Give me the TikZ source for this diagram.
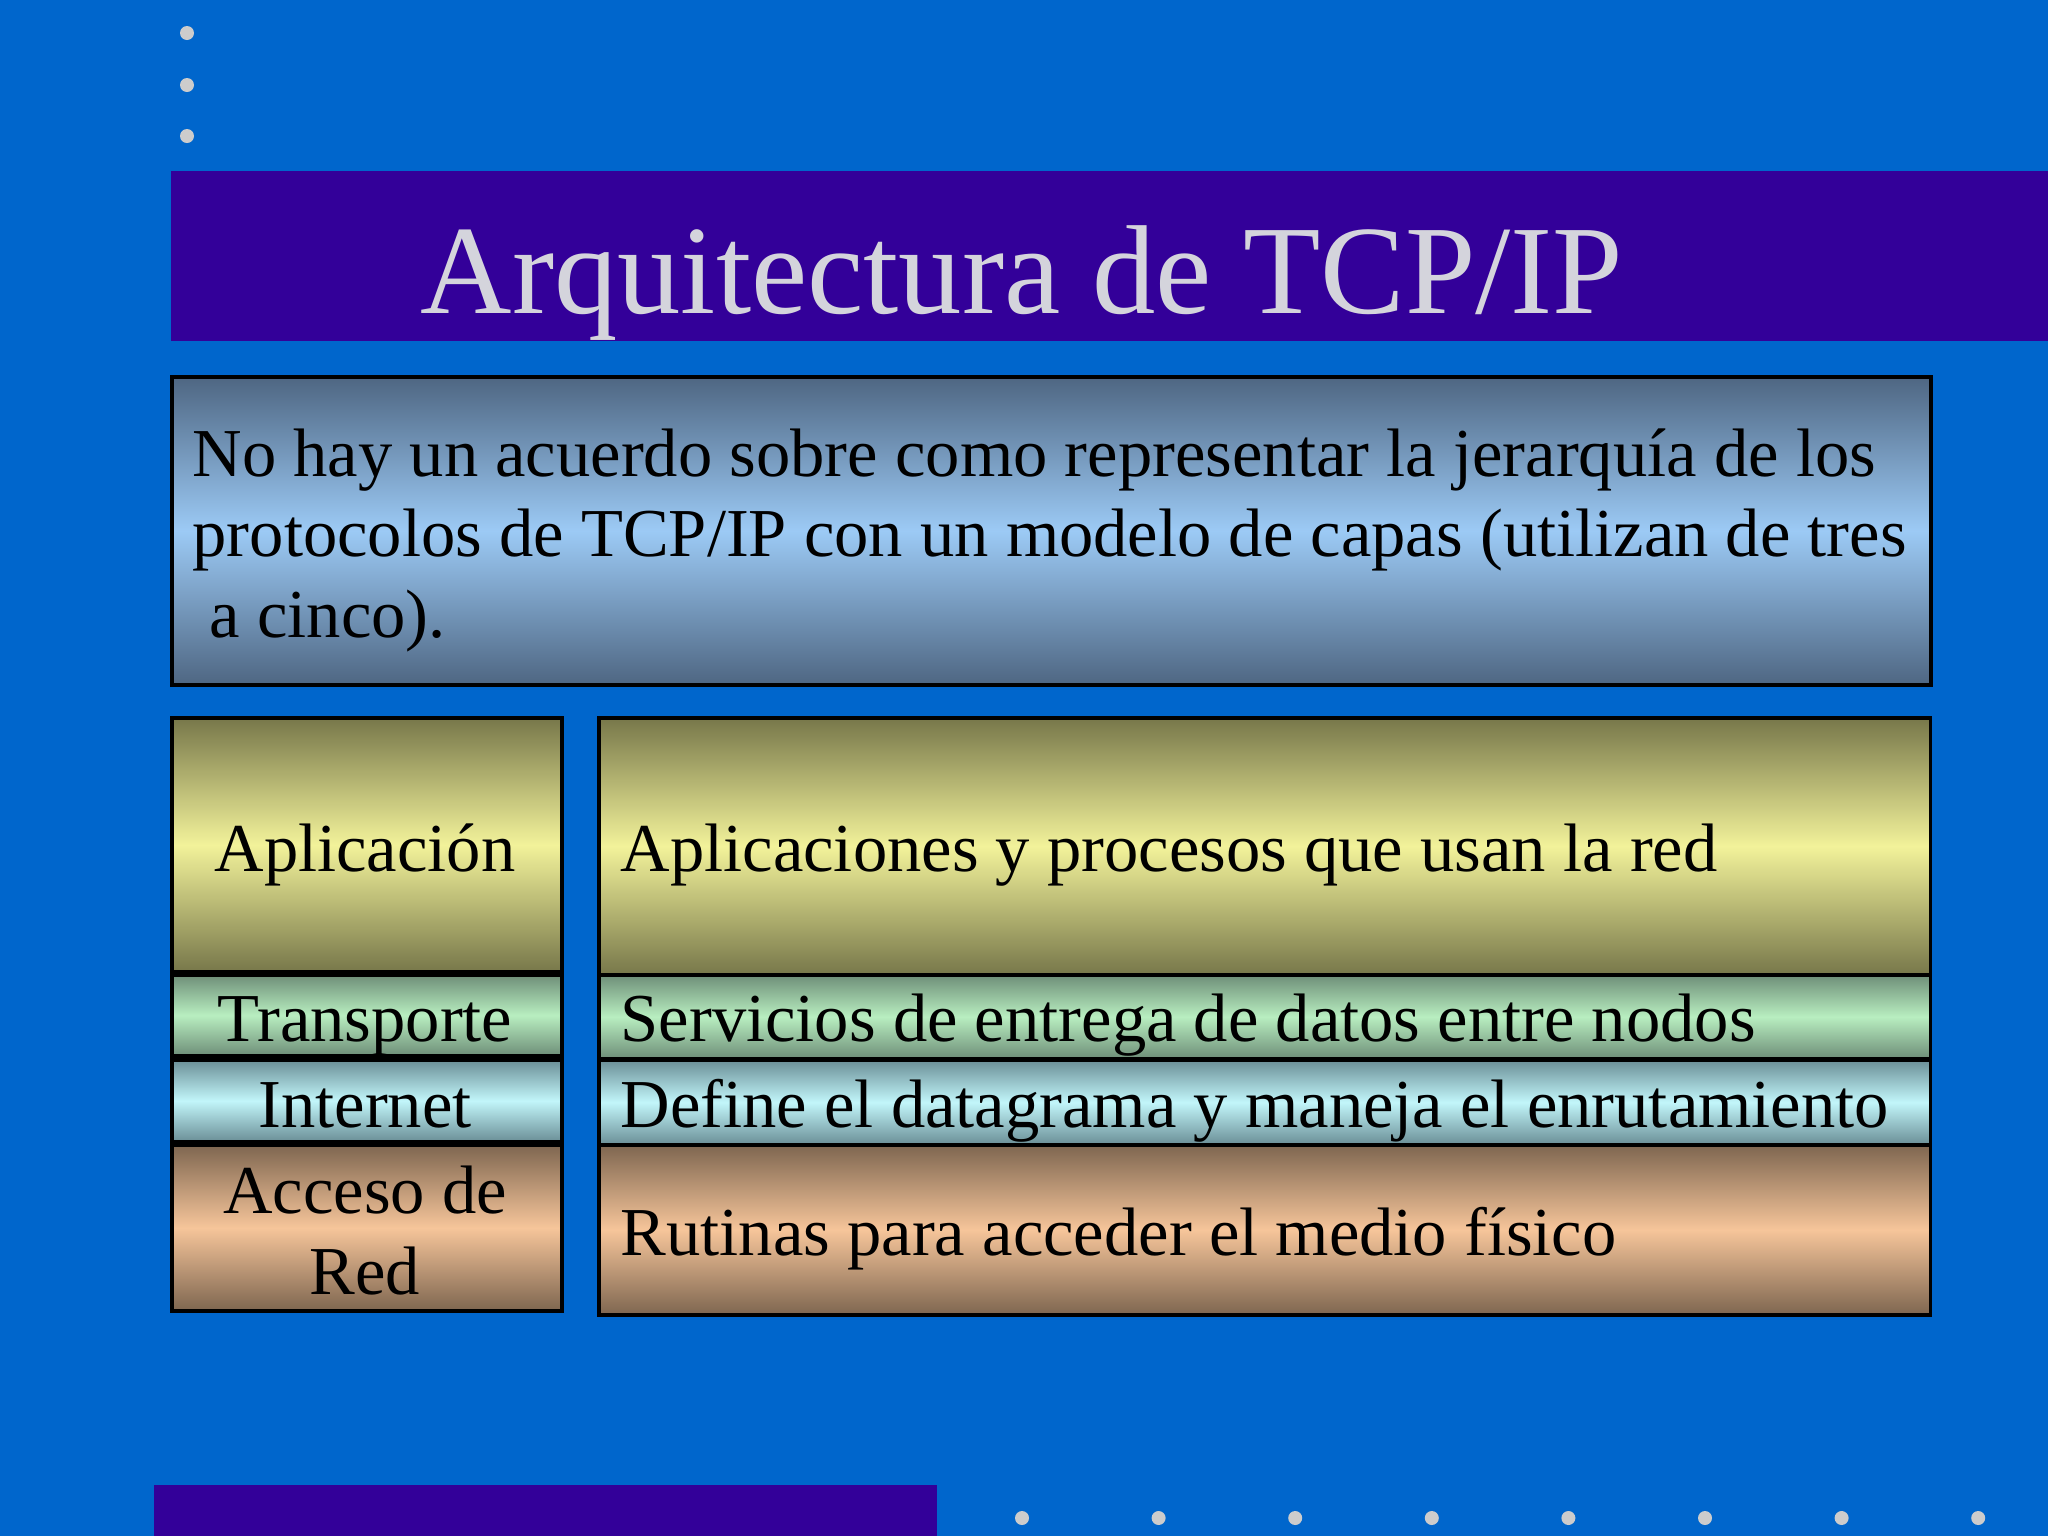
\documentclass[tikz,border=0pt]{standalone}
\usepackage{fontspec}
\setmainfont{Liberation Serif}
\usetikzlibrary{positioning}
\definecolor{slidebg}{HTML}{0066CC}
\definecolor{titlebar}{HTML}{330099}
\definecolor{dotgray}{HTML}{CCCCCC}
\definecolor{titlegray}{HTML}{D4D4DC}
\definecolor{descdark}{HTML}{4E6682}
\definecolor{desclight}{HTML}{9CCAF5}
\definecolor{apldark}{HTML}{77774A}
\definecolor{apllight}{HTML}{F2F29A}
\definecolor{trdark}{HTML}{6E8E78}
\definecolor{trlight}{HTML}{B8EEC0}
\definecolor{indark}{HTML}{6A8E96}
\definecolor{inlight}{HTML}{C2F6FA}
\definecolor{acdark}{HTML}{7E6650}
\definecolor{aclight}{HTML}{F6C59A}
\tikzset{
  layer/.style={draw=black, line width=1pt, rectangle, inner sep=0pt, anchor=north west},
  lbl/.style={inner sep=0pt, text=black, font=\fontsize{19.5}{22.8}\selectfont},
  titletext/.style={inner sep=0pt, text=titlegray, font=\fontsize{36}{40}\selectfont},
  shade3/.style n args={2}{top color=#1, bottom color=#1, middle color=#2},
}
\begin{document}
\begin{tikzpicture}[x=0.01cm,y=-0.01cm]
\useasboundingbox (0,0) rectangle (2048,1536);
\fill[slidebg] (0,0) rectangle (2048,1536);
% bullets and bars
\foreach \y in {33,85,136}
  \fill[dotgray] (187,\y) circle[radius=7];
\foreach \i in {0,...,7}
  \fill[dotgray] (1022+136.6*\i,1518) circle[radius=7];
\fill[titlebar] (171,171) rectangle (2048,341);
\fill[titlebar] (154,1485) rectangle (937,1536);
\node[titletext, anchor=base] (title) at (1022,313) {Arquitectura de TCP/IP};

% description box (base = last line)
\node[layer, shade3={descdark}{desclight}, minimum width=17.58cm, minimum height=3.08cm] (desc) at (170,375) {};
\node[lbl, anchor=base west, align=left] (descT) at (192,637)
  {No hay un acuerdo sobre como representar la jerarquía de los\\
   protocolos de TCP/IP con un modelo de capas (utilizan de tres\\
   ~a cinco).};

% layers, left column
\node[layer, shade3={apldark}{apllight}, minimum width=3.9cm, minimum height=2.54cm] (apl) at (170,716) {};
\node[layer, shade3={trdark}{trlight}, minimum width=3.9cm, minimum height=0.81cm] (tra) at (170,973) {};
\node[layer, shade3={indark}{inlight}, minimum width=3.9cm, minimum height=0.82cm] (inet) at (170,1058) {};
\node[layer, shade3={acdark}{aclight}, minimum width=3.9cm, minimum height=1.66cm] (acc) at (170,1143) {};
\node[lbl, anchor=base] (aplT) at (365,871) {Aplicación};
\node[lbl, anchor=base] (traT) at (365,1041) {Transporte};
\node[lbl, anchor=base] (inetT) at (365,1127) {Internet};
\node[lbl, anchor=base, align=center] (accT) at (365,1294) {Acceso de\\Red};

% layers, right column
\node[layer, shade3={apldark}{apllight}, minimum width=13.31cm, minimum height=2.57cm] (aplD) at (597,716) {};
\node[layer, shade3={trdark}{trlight}, minimum width=13.31cm, minimum height=0.84cm] (traD) at (597,973) {};
\node[layer, shade3={indark}{inlight}, minimum width=13.31cm, minimum height=0.85cm] (inetD) at (597,1058) {};
\node[layer, shade3={acdark}{aclight}, minimum width=13.31cm, minimum height=1.70cm] (accD) at (597,1143) {};
\node[lbl, anchor=base west] (aplDT) at (620,871) {Aplicaciones y procesos que usan la red};
\node[lbl, anchor=base west] (traDT) at (620,1041) {Servicios de entrega de datos entre nodos};
\node[lbl, anchor=base west] (inetDT) at (620,1127) {Define el datagrama y maneja el enrutamiento};
\node[lbl, anchor=base west] (accDT) at (620,1255) {Rutinas para acceder el medio físico};
\end{tikzpicture}
\end{document}
